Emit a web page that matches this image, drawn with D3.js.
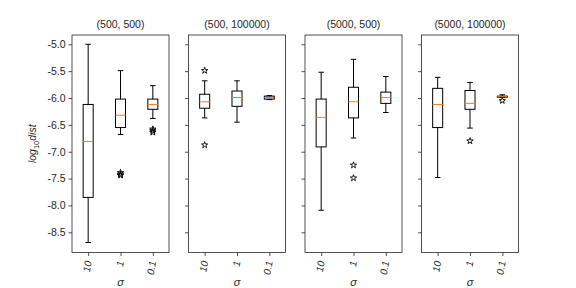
<!DOCTYPE html>
<html>
<head>
<meta charset="utf-8">
<script src="https://cdn.jsdelivr.net/npm/d3@7"></script>
<style>
  body { margin: 0; background: #fff; }
  svg { font-family: "Liberation Sans", Arial, sans-serif; }
</style>
</head>
<body>
<div id="chart"></div>
<script>
// box statistics, one row per panel, one entry per sigma
var panelTitles = ["(500, 500)", "(500, 100000)", "(5000, 500)", "(5000, 100000)"];
var sigmaLabels = ["10", "1", "0.1"];
var yTicks = [-5.0, -5.5, -6.0, -6.5, -7.0, -7.5, -8.0, -8.5];

var whiskerHi = [[-5.00, -5.49, -5.77], [-5.68, -5.68, -5.955], [-5.52, -5.28, -5.60], [-5.615, -5.71, -5.94]];
var q3 =        [[-6.12, -6.02, -6.02], [-5.93, -5.87, -5.965], [-6.02, -5.80, -5.89], [-5.82, -5.86, -5.965]];
var medians =   [[-6.81, -6.32, -6.12], [-6.07, -5.99, -5.99],  [-6.36, -6.07, -5.99], [-6.12, -6.10, -5.975]];
var q1 =        [[-7.85, -6.55, -6.21], [-6.19, -6.155, -6.02], [-6.91, -6.37, -6.10], [-6.55, -6.21, -5.985]];
var whiskerLo = [[-8.69, -6.68, -6.38], [-6.37, -6.45, -6.03],  [-8.09, -6.745, -6.27], [-7.48, -6.56, -5.99]];
var outliers = [
    [[], [-7.39, -7.42, -7.44], [-6.58, -6.61, -6.64]],
    [[-5.49, -6.875], [], []],
    [[], [-7.25, -7.49], []],
    [[], [-6.80], [-6.05]]
];

var width = 576, height = 288;
var panelLeft = 72, panelWidth = 97, panelGap = 19.5;
var plotTop = 35, plotBottom = 252.5;
var boxW = 0.31, capW = 0.17;
var ink = "#262626";

var svg = d3.select("#chart").append("svg")
    .attr("width", width)
    .attr("height", height);

var y = d3.scaleLinear().domain([-4.827, -8.876]).range([plotTop, plotBottom]);
var x = d3.scaleLinear().domain([0.5, 3.5]).range([0, panelWidth]);

var star = d3.symbol().type(d3.symbolStar).size(12.5);

panelTitles.forEach(function(title, p) {
    var g = svg.append("g")
        .attr("transform", `translate(${panelLeft + p * (panelWidth + panelGap)}, 0)`);

    // y axis
    var yAxis = d3.axisLeft(y).tickValues(yTicks).tickSize(3.5).tickPadding(3)
        .tickFormat(p == 0 ? (d => d3.format(".1f")(d).replace("\u2212", "-")) : "");
    var ya = g.append("g").call(yAxis);
    ya.select(".domain").remove();
    ya.selectAll("line").attr("stroke", ink).attr("stroke-width", 0.8);
    ya.selectAll("text").attr("fill", ink).style("font-size", "10.5px");

    // x axis
    var xa = g.append("g")
        .attr("transform", `translate(0, ${plotBottom})`)
        .call(d3.axisBottom(x).tickValues([1, 2, 3]).tickSize(3.5).tickFormat(""));
    xa.select(".domain").remove();
    xa.selectAll("line").attr("stroke", ink).attr("stroke-width", 0.8);

    sigmaLabels.forEach(function(lab, i) {
        g.append("text")
            .attr("transform", `translate(${x(i + 1)}, 261) rotate(-80)`)
            .attr("text-anchor", "end")
            .attr("dominant-baseline", "central")
            .style("font-size", "10px")
            .style("font-style", "italic")
            .attr("fill", ink)
            .text(lab);
    });

    // boxes
    sigmaLabels.forEach(function(lab, i) {
        var cx = x(i + 1);
        var hw = (x(1 + boxW / 2) - x(1));
        var cw = (x(1 + capW / 2) - x(1));
        var b = g.append("g").attr("fill", "none").attr("stroke", "black").attr("stroke-width", 1);
        b.append("line").attr("x1", cx).attr("x2", cx).attr("y1", y(q3[p][i])).attr("y2", y(whiskerHi[p][i]));
        b.append("line").attr("x1", cx).attr("x2", cx).attr("y1", y(q1[p][i])).attr("y2", y(whiskerLo[p][i]));
        b.append("line").attr("x1", cx - cw).attr("x2", cx + cw).attr("y1", y(whiskerHi[p][i])).attr("y2", y(whiskerHi[p][i]));
        b.append("line").attr("x1", cx - cw).attr("x2", cx + cw).attr("y1", y(whiskerLo[p][i])).attr("y2", y(whiskerLo[p][i]));
        b.append("rect")
            .attr("x", cx - hw).attr("width", 2 * hw)
            .attr("y", y(q3[p][i])).attr("height", y(q1[p][i]) - y(q3[p][i]));
        b.append("line")
            .attr("x1", cx - hw).attr("x2", cx + hw)
            .attr("y1", y(medians[p][i])).attr("y2", y(medians[p][i]))
            .attr("stroke", "#ff7f0e");
        outliers[p][i].forEach(function(v) {
            b.append("path")
                .attr("d", star)
                .attr("transform", `translate(${cx}, ${y(v)})`)
                .attr("stroke-width", 0.9);
        });
    });

    // frame
    g.append("rect")
        .attr("x", 0).attr("y", plotTop)
        .attr("width", panelWidth).attr("height", plotBottom - plotTop)
        .attr("fill", "none").attr("stroke", ink).attr("stroke-width", 0.8);

    g.append("text")
        .attr("x", panelWidth / 2).attr("y", 28)
        .attr("text-anchor", "middle")
        .style("font-size", "10.5px")
        .attr("fill", ink)
        .text(title);

    g.append("text")
        .attr("x", panelWidth / 2).attr("y", 286)
        .attr("text-anchor", "middle")
        .style("font-size", "11px")
        .style("font-style", "italic")
        .attr("fill", ink)
        .text("\u03c3");
});

// y label
var yl = svg.append("text")
    .attr("transform", `translate(36, ${(plotTop + plotBottom) / 2}) rotate(-90)`)
    .attr("text-anchor", "middle")
    .style("font-size", "10.5px")
    .style("font-style", "italic")
    .attr("fill", ink);
yl.append("tspan").text("log");
yl.append("tspan").attr("dy", 2.5).style("font-size", "7.5px").style("font-style", "normal").text("10");
yl.append("tspan").attr("dy", -2.5).text("dist");
</script>
</body>
</html>
